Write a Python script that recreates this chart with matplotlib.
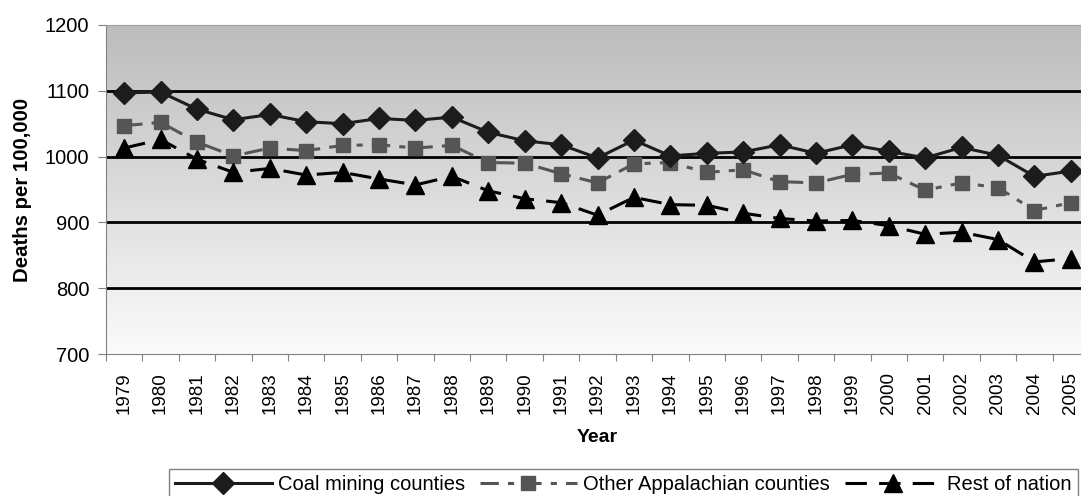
import numpy as np
import matplotlib
matplotlib.use("Agg")
import matplotlib.pyplot as plt

plt.rcParams['font.family'] = ['Liberation Sans', 'DejaVu Sans']

years = list(range(1979, 2006))
year_labels = [str(y) for y in years]
coal = [1097, 1098, 1072, 1056, 1064, 1053, 1050, 1058, 1055, 1060, 1037, 1024, 1018,
        998, 1025, 1001, 1005, 1007, 1018, 1005, 1018, 1008, 998, 1014, 1002, 970, 978]
other_app = [1047, 1052, 1022, 1001, 1013, 1009, 1017, 1018, 1013, 1017, 991, 990, 974,
             960, 989, 991, 976, 980, 962, 960, 973, 975, 949, 960, 953, 918, 930]
rest = [1013, 1026, 996, 976, 982, 972, 976, 966, 957, 970, 948, 936, 930,
        911, 938, 927, 926, 914, 906, 902, 903, 895, 882, 885, 874, 840, 845]
series_names = ["Coal mining counties", "Other Appalachian counties", "Rest of nation"]

W, H = 1081, 496
fig = plt.figure(figsize=(W / 100, H / 100), dpi=100)
ax = fig.add_axes([106 / W, 1 - 354 / H, (1089 - 106) / W, (354 - 25) / H])

x = np.arange(len(years))
ax.set_xlim(-0.5, len(years) - 0.5)
ax.set_ylim(700, 1200)

# gradient background
grad = np.linspace(0, 1, 256).reshape(-1, 1)
cmap = matplotlib.colors.LinearSegmentedColormap.from_list("g", ["#bcbcbc", "#fbfbfb"])
ax.imshow(grad, aspect='auto', cmap=cmap, extent=[0, 1, 0, 1], transform=ax.transAxes,
          zorder=0, origin='upper')

for v in [800, 900, 1000, 1100]:
    ax.axhline(v, color='black', lw=2, zorder=1)

ax.plot(x, coal, color='#1c1c1c', lw=2.2, marker='D', ms=11, mfc='#1c1c1c', mec='#1c1c1c',
        zorder=4, label=series_names[0])
ax.plot(x, other_app, color='#555555', lw=2.2, dashes=(6, 3, 2, 3), marker='s', ms=9.5,
        mfc='#555555', mec='#555555', zorder=3, label=series_names[1])
ax.plot(x, rest, color='black', lw=2.2, dashes=(7, 4), marker='^', ms=13,
        mfc='black', mec='black', zorder=3, label=series_names[2])

ax.set_yticks([700, 800, 900, 1000, 1100, 1200])
ax.tick_params(axis='y', labelsize=14.5, length=6, width=0.8, color='#808080', pad=6)
ax.set_xticks(x)
ax.set_xticklabels(year_labels, rotation=90, fontsize=13.5)
ax.set_xticks(np.arange(-0.5, len(years), 1), minor=True)
ax.tick_params(axis='x', which='major', length=0, pad=13)
ax.tick_params(axis='x', which='minor', length=5, width=0.8, color='#808080')

ax.spines['right'].set_visible(False)
ax.spines['left'].set_color('#808080')
ax.spines['bottom'].set_color('#808080')
ax.spines['top'].set_color('#a0a0a0')
ax.spines['top'].set_linewidth(0.8)

ax.set_ylabel("Deaths per 100,000", fontsize=14.7, fontweight='bold')
ax.set_xlabel("Year", fontsize=14, fontweight='bold', labelpad=11)
ax.yaxis.set_label_coords(-0.075, 0.5)

leg = fig.legend(loc='upper left', bbox_to_anchor=(169 / W, 1 - 469 / H), ncol=3,
                 fontsize=14.5, frameon=True, fancybox=False, handlelength=4.8,
                 handletextpad=0.3, columnspacing=0.75, borderpad=0.3, borderaxespad=0)
leg.get_frame().set_edgecolor('#606060')
leg.get_frame().set_linewidth(1)

fig.savefig("out.png", dpi=100)
